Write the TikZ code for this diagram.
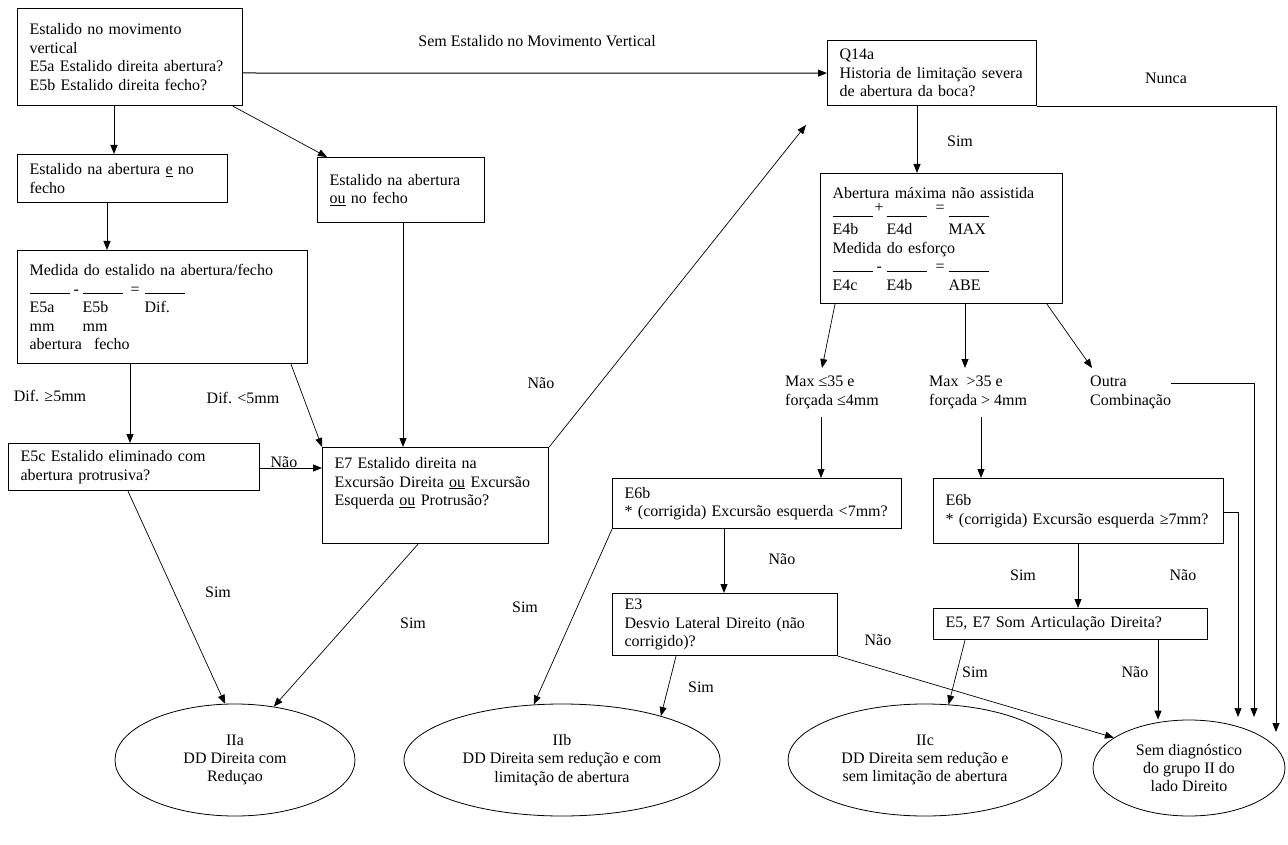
\documentclass[tikz,border=0pt]{standalone}
\usepackage{fontspec}
\setmainfont{Liberation Serif}
\usetikzlibrary{arrows.meta,positioning,shapes.geometric}
\newcommand{\blank}{\rule{40pt}{0.8pt}}

\begin{document}
\begin{tikzpicture}[
  x=1pt, y=-1pt,
  every node/.style={font=\fontsize{16}{18.4}\selectfont},
  qbox/.style={draw, line width=1.2pt, anchor=north west, align=left, inner xsep=12pt, inner ysep=2pt, text width=#1pt-24pt},
  endnode/.style={draw, ellipse, line width=0.8pt, align=center, inner sep=0pt},
  optlbl/.style={anchor=north west, align=left, inner xsep=0pt, inner ysep=8pt},
  lbl/.style={inner sep=1pt},
  edge/.style={-{Triangle[length=9pt,width=7pt]}, line width=1pt},
  thin edge/.style={edge, line width=0.7pt}
]
\useasboundingbox (0,0) rectangle (1288,845);

\node[qbox=225, minimum height=97] (vert) at (17,8) {Estalido no movimento\\vertical\\E5a Estalido direita abertura?\\E5b Estalido direita fecho?};
\node[qbox=210, minimum height=48] (both) at (17,154) {Estalido na abertura \underline{e} no\\fecho};
\node[qbox=167, minimum height=65] (either) at (317,157) {Estalido na abertura\\\underline{ou} no fecho};
\node[qbox=290, minimum height=113] (measure) at (17,250) {Medida do estalido na abertura/fecho\\
  \makebox[53pt][l]{\blank\hspace{4pt}-}\makebox[62pt][l]{\blank\hspace{8pt}=}\blank\\
  \makebox[53pt][l]{E5a}\makebox[62pt][l]{E5b}Dif.\\
  \makebox[53pt][l]{mm}mm\\
  abertura\hspace{12pt}fecho};
\node[qbox=251, minimum height=47] (protr) at (8,443) {E5c Estalido eliminado com\\abertura protrusiva?};
\node[qbox=226, text height=19pt, text depth=73pt] (excur) at (322,447) {E7 Estalido direita na\\Excursão Direita \underline{ou} Excursão\\Esquerda \underline{ou} Protrusão?};
\node[qbox=209, minimum height=65] (q14) at (827,40) {Q14a\\Historia de limitação severa\\de abertura da boca?};
\node[qbox=242, minimum height=130] (maxab) at (820,173) {Abertura máxima não assistida\\
  \makebox[54pt][l]{\blank\hspace{2pt}\raisebox{4pt}{+}}\makebox[62pt][l]{\blank\hspace{9pt}\raisebox{4pt}{=}}\blank\\
  \makebox[54pt][l]{E4b}\makebox[62pt][l]{E4d}MAX\\
  Medida do esforço\\
  \makebox[54pt][l]{\blank\hspace{4pt}-}\makebox[62pt][l]{\blank\hspace{9pt}=}\blank\\
  \makebox[54pt][l]{E4c}\makebox[62pt][l]{E4b}ABE};
\node[optlbl] (lowmax) at (785,368) {Max ≤35 e\\forçada ≤4mm};
\node[optlbl] (midmax) at (929,368) {Max~ >35 e\\forçada > 4mm};
\node[optlbl] (other) at (1090,368) {Outra\\Combinação};
\node[qbox=289, minimum height=50] (lowopen) at (612,478) {E6b\\{}* (corrigida) Excursão esquerda <7mm?};
\node[qbox=290, minimum height=65] (highopen) at (933,478) {E6b\\{}* (corrigida) Excursão esquerda ≥7mm?};
\node[qbox=225, minimum height=62] (desvio) at (612,593) {E3\\Desvio Lateral Direito (não\\corrigido)?};
\node[qbox=274, minimum height=31] (som) at (933,608) {E5, E7 Som Articulação Direita?};

\node[endnode, minimum width=240, minimum height=112] (ddred) at (235,760) {IIa\\DD Direita com\\Reduçao};
\node[endnode, minimum width=316, minimum height=112] (ddlim) at (562,760) {IIb\\DD Direita sem redução e com\\limitação de abertura};
\node[endnode, minimum width=274, minimum height=112] (ddnolim) at (925,760) {IIc\\DD Direita sem redução e\\sem limitação de abertura};
\node[endnode, minimum width=192, minimum height=96] (semdiag) at (1189,768) {Sem diagnóstico\\do grupo II do\\lado Direito};

\node[lbl] (lsem) at (537,41) {Sem Estalido no Movimento Vertical};
\node[lbl] (lnunca) at (1166,78) {Nunca};
\node[lbl] (lsim1) at (960,141) {Sim};
\node[lbl] (ldif1) at (50,396) {Dif. ≥5mm};
\node[lbl] (ldif2) at (243,398) {Dif. <5mm};
\node[lbl] (lnao1) at (284,462) {Não};
\node[lbl] (lnao2) at (541,383) {Não};
\node[lbl] (lsim2) at (218,592) {Sim};
\node[lbl] (lsim3) at (413,623) {Sim};
\node[lbl] (lsim4) at (525,607) {Sim};
\node[lbl] (lnao3) at (782,559) {Não};
\node[lbl] (lsim5) at (701,687) {Sim};
\node[lbl] (lnao4) at (878,640) {Não};
\node[lbl] (lsim6) at (1023,575) {Sim};
\node[lbl] (lnao5) at (1183,575) {Não};
\node[lbl] (lsim7) at (975,672) {Sim};
\node[lbl] (lnao6) at (1135,672) {Não};

\coordinate (q14in) at (806,125);
\coordinate (sdin1) at (1238,717);
\coordinate (sdin2) at (1254,717);
\coordinate (sdin3) at (1276,732);
\coordinate (nuncaturn) at (q14.south east -| sdin3);
\coordinate (somout) at ([xshift=225pt]som.south west);

\draw[edge] ([xshift=97pt]vert.south west) -- ([xshift=97pt]both.north west);
\draw[thin edge] ([xshift=216pt]vert.south west) -- ([xshift=10pt]either.north west);
\draw[edge] ([yshift=-65pt]vert.north east) -- (q14.west);
\draw[edge] ([xshift=90pt]both.south west) -- ([xshift=90pt]measure.north west);
\draw[edge] ([xshift=86pt]either.south west) -- ([xshift=81pt]excur.north west);
\draw[edge] ([xshift=113pt]measure.south west) -- ([xshift=122pt]protr.north west);
\draw[thin edge] ([xshift=274pt]measure.south west) -- (excur.north west);
\draw[edge] ([yshift=-25pt]protr.north east) -- ([yshift=-21pt]excur.north west);
\draw[thin edge] (excur.north east) -- (q14in);
\draw[thin edge] ([xshift=120pt]protr.south west) -- (ddred.100);
\draw[thin edge] ([xshift=96pt]excur.south west) -- (ddred.54);
\draw[edge] ([xshift=90pt]q14.south west) -- ([xshift=97pt]maxab.north west);
\draw[edge] (q14.south east) -- (nuncaturn) -- (sdin3);
\draw[thin edge] ([xshift=15pt]maxab.south west) -- ([xshift=37pt]lowmax.north west);
\draw[edge] ([xshift=145pt]maxab.south west) -- ([xshift=36pt]midmax.north west);
\draw[thin edge] ([xshift=227pt]maxab.south west) -- ([xshift=2pt]other.north west);
\draw[thin edge] ([xshift=36pt]lowmax.south west) -- ([xshift=209pt]lowopen.north west);
\draw[edge] ([xshift=52pt]midmax.south west) -- ([xshift=48pt]highopen.north west);
\draw[edge] ([yshift=-15pt]other.north east) -| (sdin2);
\draw[thin edge] ([yshift=-34pt]highopen.north east) -| (sdin1);
\draw[edge] ([xshift=112pt]lowopen.south west) -- ([xshift=112pt]desvio.north west);
\draw[thin edge] (lowopen.south west) -- (ddlim.117);
\draw[thin edge] ([xshift=64pt]desvio.south west) -- (ddlim.24);
\draw[thin edge] (desvio.south east) -- (semdiag.158);
\draw[edge] ([xshift=145pt]highopen.south west) -- ([xshift=145pt]som.north west);
\draw[thin edge] ([xshift=32pt]som.south west) -- (ddnolim.67);
\draw[edge] (somout) -- (somout |- semdiag.north);
\end{tikzpicture}
\end{document}
